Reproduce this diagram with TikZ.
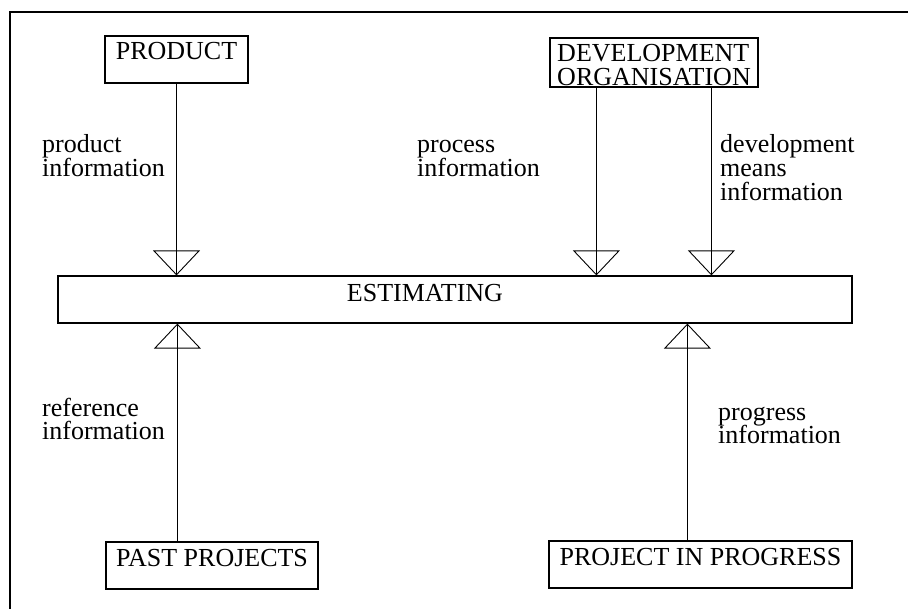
\documentclass[tikz,border=0pt]{standalone}
\usepackage{fontspec}
\setmainfont{Liberation Serif}
\usepackage{tikz}
\usetikzlibrary{positioning, arrows.meta}

\begin{document}
\begin{tikzpicture}[x=1pt, y=-1pt,
	box/.style={draw, line width=1.2, inner xsep=0, inner ysep=0, text height=24pt, text depth=23pt, font=\fontsize{26pt}{24pt}\selectfont},
	lbl/.style={inner sep=0, align=left, anchor=base west, font=\fontsize{26pt}{24pt}\selectfont},
	info/.style={line width=0.9, -{Triangle[open, width=47pt, length=25pt]}, postaction={draw, -}}]

		\useasboundingbox (0,0) rectangle (908,609);
		\draw[line width=2] (908,12) -- (10,12) -- (10,609);

		% nodes - boxes %
		\node[box, anchor=base, minimum width=143pt] (product) at (176.5,60) {PRODUCT};
		\node[box, anchor=base, minimum width=208pt, align=left, text height=48pt, text depth=1pt] (devorg) at (654,86) {DEVELOPMENT\\ORGANISATION};
		\node[box, anchor=base, text width=794pt, align=left, text height=26pt, text depth=21pt] (estimating) at (455,302) {\hspace*{289pt}ESTIMATING};
		\node[box, anchor=base, minimum width=212pt] (past) at (212,566) {PAST PROJECTS};
		\node[box, anchor=base, minimum width=303pt] (progress) at (700.5,565) {PROJECT IN PROGRESS};

		% nodes - flow labels %
		\node[lbl] (productinfo) at (42,177) {product\\information};
		\node[lbl] (processinfo) at (417,177) {process\\information};
		\node[lbl] (meansinfo) at (720,201) {development\\means\\information};
		\node[lbl] (referenceinfo) at (42,440) {reference\\information};
		\node[lbl] (progressinfo) at (718,444) {progress\\information};

		% edges %
		\coordinate (d1) at ([xshift=47pt]devorg.south west);
		\coordinate (d2) at ([xshift=162pt]devorg.south west);
		\coordinate (p1) at ([xshift=72pt]past.north west);
		\coordinate (p2) at ([xshift=139pt]progress.north west);
		\draw[info] (product) -- (product |- estimating.north);
		\draw[info] (d1) -- (d1 |- estimating.north);
		\draw[info] (d2) -- (d2 |- estimating.north);
		\draw[info] (p1) -- (p1 |- estimating.south);
		\draw[info] (p2) -- (p2 |- estimating.south);

		\end{tikzpicture}
\end{document}
